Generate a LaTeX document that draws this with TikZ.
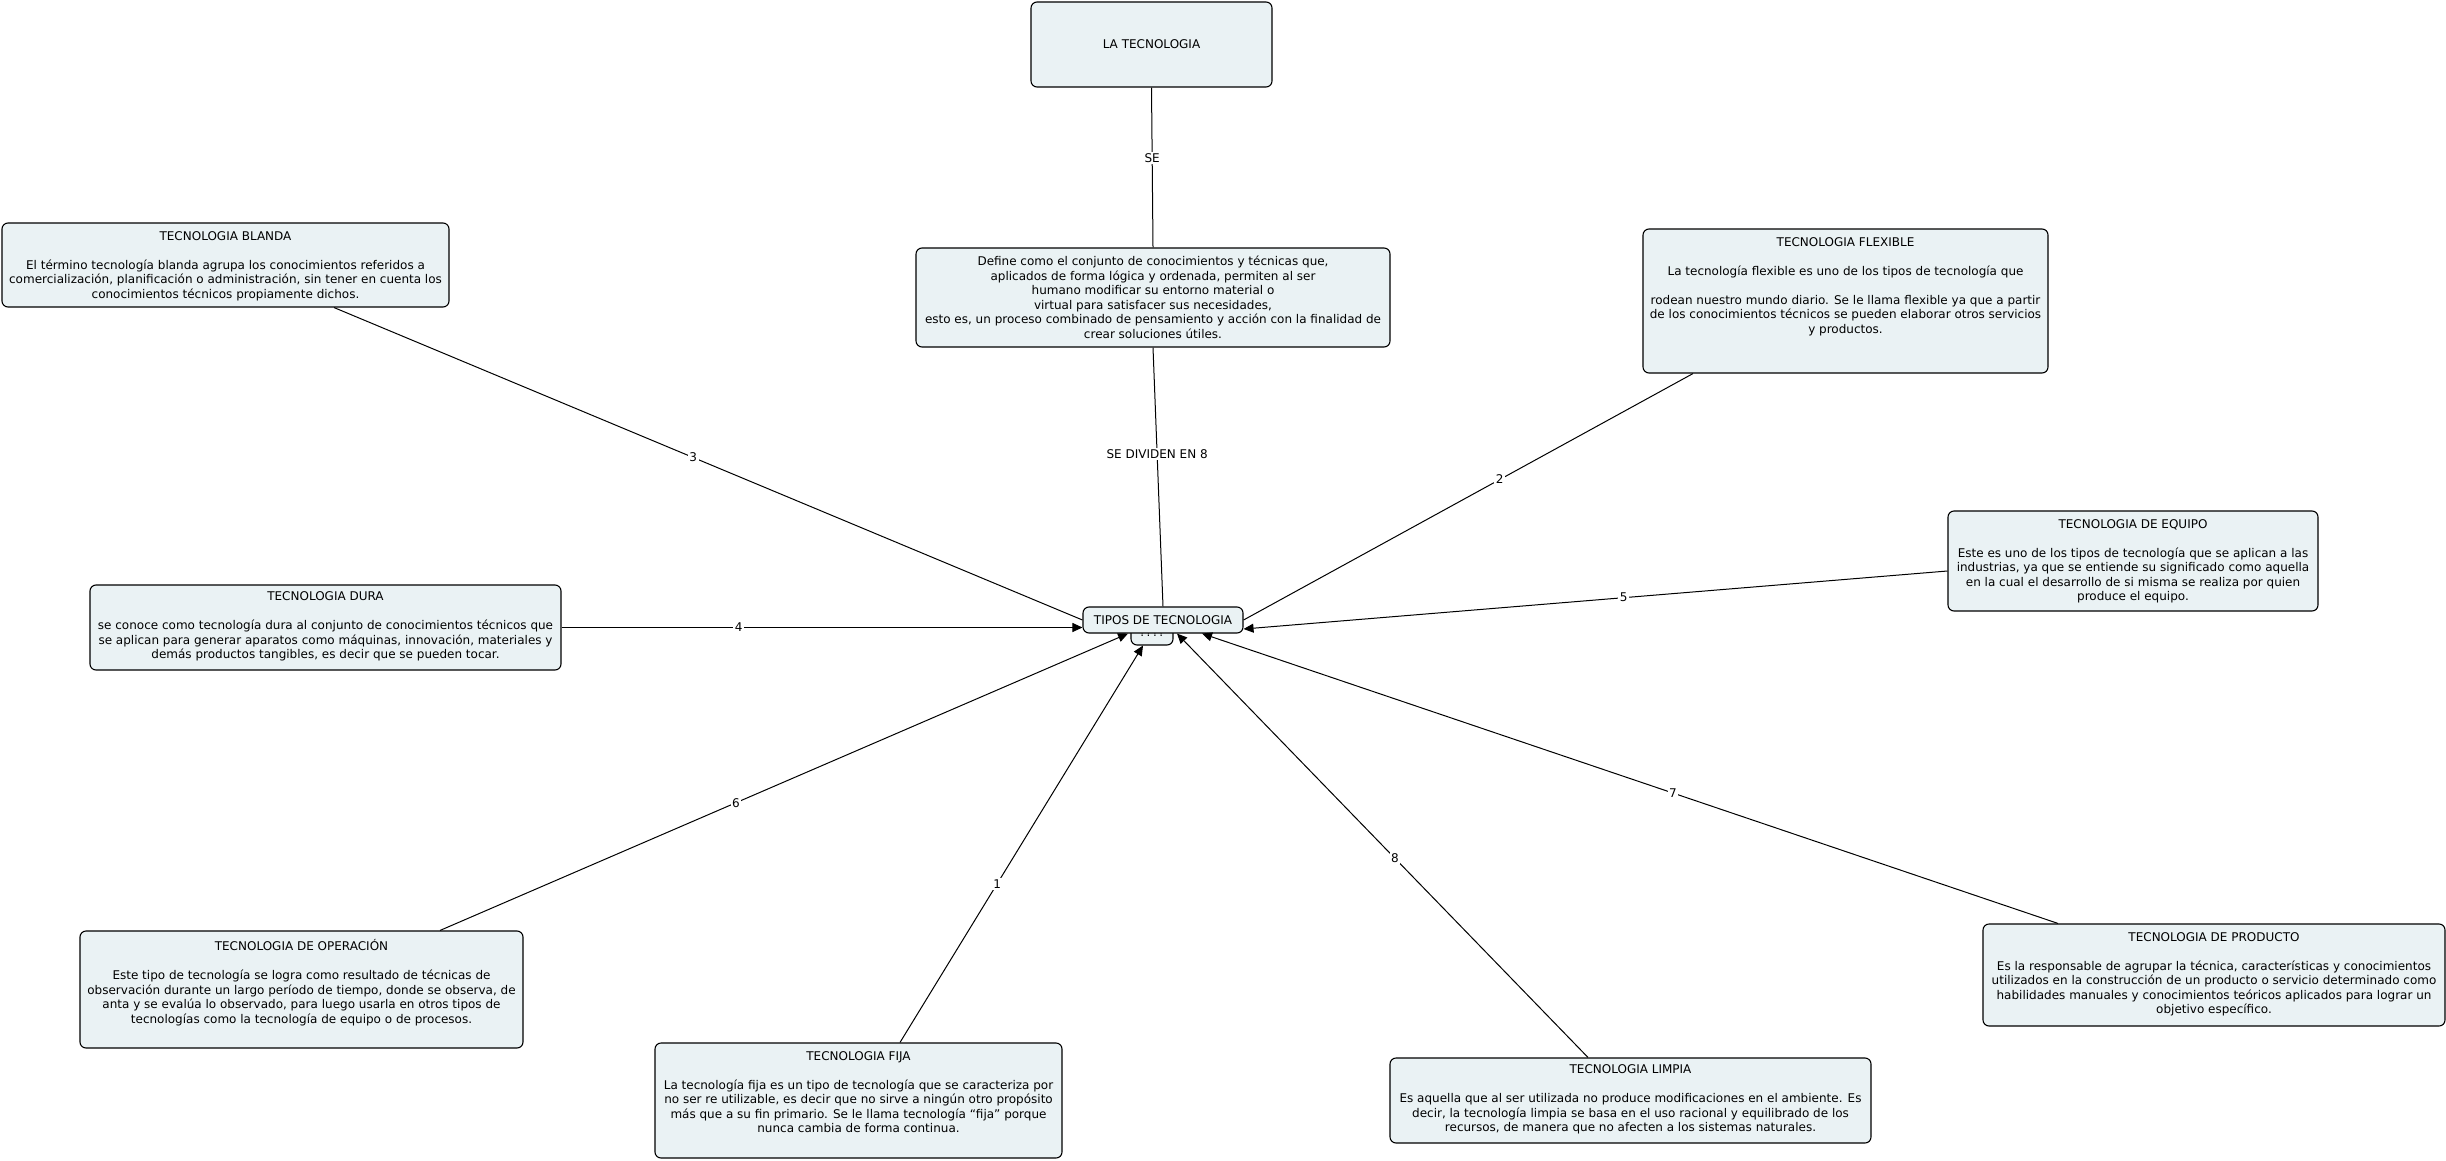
\documentclass[tikz,border=0pt]{standalone}
\usepackage{fontspec}
\setmainfont{DejaVu Sans}
\usetikzlibrary{arrows.meta}
\definecolor{boxfill}{RGB}{234,242,244}
\begin{document}
\begin{tikzpicture}[x=1pt,y=-1pt,line width=1pt,
  box/.style={draw=black,line width=1.1pt,fill=boxfill,rounded corners=6pt,inner sep=0pt,
    font=\fontsize{12}{14.5}\selectfont,align=center},
  txt/.style={align=center,inner sep=0pt,anchor=north,font=\fontsize{12}{14.5}\selectfont},
  lbl/.style={fill=white,inner sep=1.5pt,font=\fontsize{12}{14.5}\selectfont},
  arr/.style={-{Triangle[length=10pt,width=9pt]}}]
\useasboundingbox (0,0) rectangle (2446,1161);

% boxes
\node[box,minimum width=241pt,minimum height=85pt] (latec) at (1151.5,44.5) {LA TECNOLOGIA};
\node[box,minimum width=474pt,minimum height=99pt] (define) at (1153,297.5) {Define como el conjunto de conocimientos y técnicas que,\\
aplicados de forma lógica y ordenada, permiten al ser\\
humano modificar su entorno material o\\
virtual para satisfacer sus necesidades,\\
esto es, un proceso combinado de pensamiento y acción con la finalidad de\\
crear soluciones útiles.};
\node[box,minimum width=447pt,minimum height=84pt] (blanda) at (225.5,265) {};
\node[box,minimum width=405pt,minimum height=144pt] (flex) at (1845.5,301) {};
\node[box,minimum width=370pt,minimum height=100pt] (equipo) at (2133,561) {};
\node[box,minimum width=471pt,minimum height=85pt] (dura) at (325.5,627.5) {};
\node[box,minimum width=42pt,minimum height=26pt] (q) at (1152,632) {????};
\node[box,minimum width=160pt,minimum height=26pt] (tipos) at (1163,620) {TIPOS DE TECNOLOGIA};
\node[box,minimum width=443pt,minimum height=117pt] (oper) at (301.5,989.5) {};
\node[box,minimum width=407pt,minimum height=115pt] (fija) at (858.5,1100.5) {};
\node[box,minimum width=481pt,minimum height=85pt] (limpia) at (1630.5,1100.5) {};
\node[box,minimum width=462pt,minimum height=102pt] (prod) at (2214,975) {};

% texts
\node[txt] (blandaT) at ([yshift=-8.5pt]blanda.north) {TECNOLOGIA BLANDA\\[14.5pt]
El término tecnología blanda agrupa los conocimientos referidos a\\
comercialización, planificación o administración, sin tener en cuenta los\\
conocimientos técnicos propiamente dichos.};
\node[txt] (flexT) at ([yshift=-8.5pt]flex.north) {TECNOLOGIA FLEXIBLE\\[14.5pt]
La tecnología flexible es uno de los tipos de tecnología que\\[14.5pt]
rodean nuestro mundo diario. Se le llama flexible ya que a partir\\
de los conocimientos técnicos se pueden elaborar otros servicios\\
y productos.};
\node[txt] (equipoT) at ([yshift=-8.5pt]equipo.north) {TECNOLOGIA DE EQUIPO\\[14.5pt]
Este es uno de los tipos de tecnología que se aplican a las\\
industrias, ya que se entiende su significado como aquella\\
en la cual el desarrollo de si misma se realiza por quien\\
produce el equipo.};
\node[txt] (duraT) at ([yshift=-7pt]dura.north) {TECNOLOGIA DURA\\[14.5pt]
se conoce como tecnología dura al conjunto de conocimientos técnicos que\\
se aplican para generar aparatos como máquinas, innovación, materiales y\\
demás productos tangibles, es decir que se pueden tocar.};
\node[txt] (operT) at ([yshift=-8.5pt]oper.north) {TECNOLOGIA DE OPERACIÓN\\[14.5pt]
Este tipo de tecnología se logra como resultado de técnicas de\\
observación durante un largo período de tiempo, donde se observa, de\\
anta y se evalúa lo observado, para luego usarla en otros tipos de\\
tecnologías como la tecnología de equipo o de procesos.};
\node[txt] (fijaT) at ([yshift=-8.5pt]fija.north) {TECNOLOGIA FIJA\\[14.5pt]
La tecnología fija es un tipo de tecnología que se caracteriza por\\
no ser re utilizable, es decir que no sirve a ningún otro propósito\\
más que a su fin primario. Se le llama tecnología “fija” porque\\
nunca cambia de forma continua.};
\node[txt] (limpiaT) at ([yshift=-7pt]limpia.north) {TECNOLOGIA LIMPIA\\[14.5pt]
Es aquella que al ser utilizada no produce modificaciones en el ambiente. Es\\
decir, la tecnología limpia se basa en el uso racional y equilibrado de los\\
recursos, de manera que no afecten a los sistemas naturales.};
\node[txt] (prodT) at ([yshift=-8.5pt]prod.north) {TECNOLOGIA DE PRODUCTO\\[14.5pt]
Es la responsable de agrupar la técnica, características y conocimientos\\
utilizados en la construcción de un producto o servicio determinado como\\
habilidades manuales y conocimientos teóricos aplicados para lograr un\\
objetivo específico.};

% connectors
\draw (latec.south) -- node[lbl,pos=0.44]{SE} (define.north);
\draw (define.south) -- node[lbl,pos=0.41]{SE DIVIDEN EN 8} (tipos.north);
\draw ([xshift=108.5pt]blanda.south) -- node[lbl,pos=0.48]{3} (tipos.west);
\draw ([xshift=-152.5pt]flex.south) -- node[lbl,pos=0.43]{2} (tipos.east);
\draw[arr] (dura.east) -- node[lbl,pos=0.34]{4} (dura.east -| tipos.west);
\draw[arr] ([yshift=-10pt]equipo.west) -- node[lbl,pos=0.46]{5} ([yshift=-9pt]tipos.east);
\draw[arr] ([xshift=138.5pt]oper.north) -- node[lbl,pos=0.43]{6} ([xshift=-35pt]tipos.south);
\draw[arr] ([xshift=41.5pt]fija.north) -- node[lbl,pos=0.40]{1} ([xshift=-9pt]q.south);
\draw[arr] ([xshift=-42.5pt]limpia.north) -- node[lbl,pos=0.47]{8} ([xshift=14pt]tipos.south);
\draw[arr] ([xshift=-156pt]prod.north) -- node[lbl,pos=0.45]{7} ([xshift=39pt]tipos.south);
\end{tikzpicture}
\end{document}
